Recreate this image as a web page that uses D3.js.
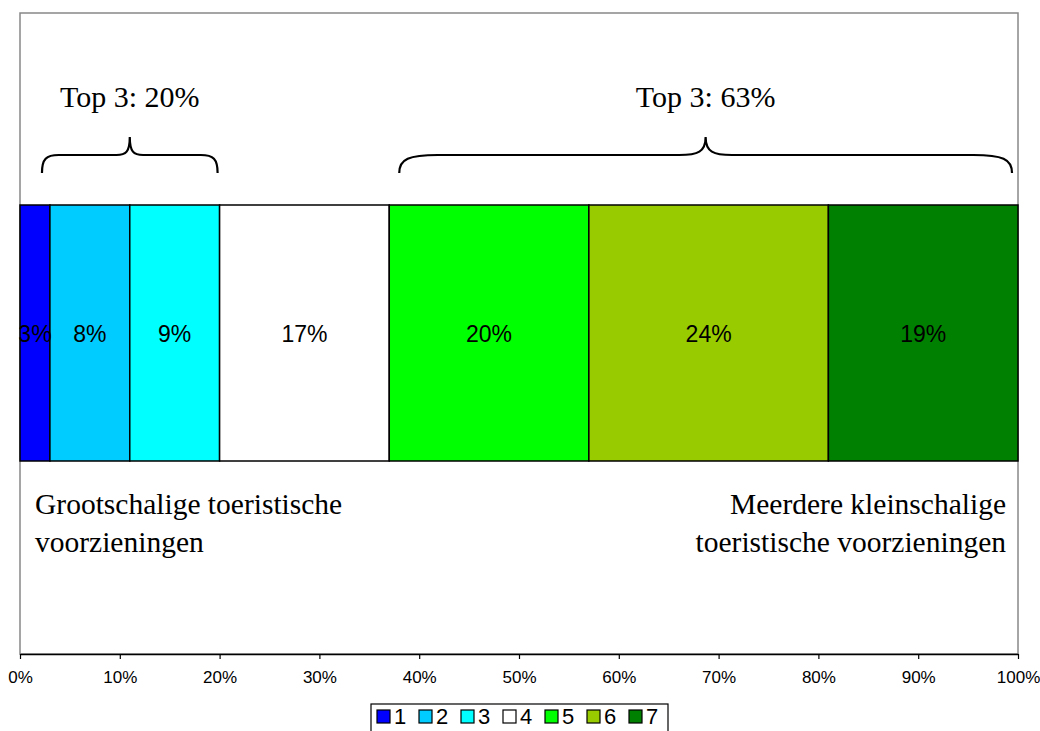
<!DOCTYPE html>
<html>
<head>
<meta charset="utf-8">
<script src="https://cdn.jsdelivr.net/npm/d3@7"></script>
<style>
  html, body { margin: 0; padding: 0; background: #fff; }
  svg { display: block; }
</style>
</head>
<body>
<svg id="chart" width="1040" height="731"></svg>
<script>
// ---- data ----
const categories = ["1", "2", "3", "4", "5", "6", "7"];
const values = [3, 8, 9, 17, 20, 24, 19];
const colors = ["#0000FF", "#00CCFF", "#00FFFF", "#FFFFFF", "#00FF00", "#99CC00", "#008000"];
const tickValues = [0, 10, 20, 30, 40, 50, 60, 70, 80, 90, 100];
const tickLabels = ["0%", "10%", "20%", "30%", "40%", "50%", "60%", "70%", "80%", "90%", "100%"];
const braceLabels = ["Top 3: 20%", "Top 3: 63%"];
const braceStart = [2.2, 38.0];
const braceEnd = [19.8, 99.4];
const groupLabelsLeft = ["Grootschalige toeristische", "voorzieningen"];
const groupLabelsRight = ["Meerdere kleinschalige", "toeristische voorzieningen"];

// ---- layout ----
const svg = d3.select("#chart");
const plot = { left: 20, right: 1018, top: 13, bottom: 654 };
const x = d3.scaleLinear().domain([0, 100]).range([plot.left, plot.right]);
const bar = { top: 205, bottom: 461 };
const sans = "'Liberation Sans', Arial, sans-serif";
const serif = "'Liberation Serif', 'Times New Roman', serif";

// plot area frame
svg.append("rect")
  .attr("x", plot.left).attr("y", plot.top)
  .attr("width", plot.right - plot.left).attr("height", plot.bottom - plot.top)
  .attr("fill", "none").attr("stroke", "#888").attr("stroke-width", 1.5);

// stacked segments
let cum = 0;
const segs = values.map((v, i) => { const s = { cat: categories[i], v, x0: cum, x1: cum + v, color: colors[i] }; cum += v; return s; });

const g = svg.append("g");
g.selectAll("rect.seg").data(segs).enter().append("rect")
  .attr("class", "seg")
  .attr("x", d => x(d.x0)).attr("y", bar.top)
  .attr("width", d => x(d.x1) - x(d.x0)).attr("height", bar.bottom - bar.top)
  .attr("fill", d => d.color).attr("stroke", "#000").attr("stroke-width", 1.5);

g.selectAll("text.lbl").data(segs).enter().append("text")
  .attr("class", "lbl")
  .attr("x", d => (x(d.x0) + x(d.x1)) / 2).attr("y", 342)
  .attr("text-anchor", "middle")
  .attr("font-family", sans).attr("font-size", 23)
  .attr("fill", "#000")
  .text(d => d.v + "%");

// axis
const axis = d3.axisBottom(x).tickValues(tickValues).tickSize(5).tickSizeOuter(0)
  .tickFormat((d, i) => tickLabels[i]);
const ag = svg.append("g").attr("transform", `translate(0,${plot.bottom})`).call(axis);
ag.select(".domain").attr("stroke", "#000").attr("stroke-width", 1.5);
ag.selectAll(".tick line").attr("stroke", "#000").attr("stroke-width", 1.2);
ag.selectAll(".tick text").attr("font-family", sans).attr("font-size", 17)
  .attr("fill", "#000").attr("dy", null).attr("y", 29);

// braces
const yTip = 137, yArm = 155, yEnd = 173;
function bracePath(x0, x1) {
  const w = x1 - x0, mid = (x0 + x1) / 2;
  const c = 8 + w * 0.05;       // end curl width
  const t = 8 + w * 0.03;       // tip curl width
  return `M${x0},${yEnd}` +
    `C${x0},${yArm + 4} ${x0 + c * 0.25},${yArm} ${x0 + c},${yArm}` +
    `L${mid - t},${yArm}` +
    `C${mid - t * 0.3},${yArm} ${mid},${yArm - 3} ${mid},${yTip}` +
    `C${mid},${yArm - 3} ${mid + t * 0.3},${yArm} ${mid + t},${yArm}` +
    `L${x1 - c},${yArm}` +
    `C${x1 - c * 0.25},${yArm} ${x1},${yArm + 4} ${x1},${yEnd}`;
}
braceLabels.forEach((lab, i) => {
  const a = x(braceStart[i]), b = x(braceEnd[i]);
  svg.append("path").attr("d", bracePath(a, b))
    .attr("fill", "none").attr("stroke", "#000").attr("stroke-width", 2.2);
  svg.append("text").attr("x", (a + b) / 2).attr("y", 107)
    .attr("text-anchor", "middle").attr("font-family", serif).attr("font-size", 30)
    .attr("fill", "#000").text(lab);
});

// group labels
groupLabelsLeft.forEach((t, i) => {
  svg.append("text").attr("x", 35).attr("y", 514 + i * 38)
    .attr("font-family", serif).attr("font-size", 29.5).attr("fill", "#000").text(t);
});
groupLabelsRight.forEach((t, i) => {
  svg.append("text").attr("x", 1006).attr("y", 514 + i * 38).attr("text-anchor", "end")
    .attr("font-family", serif).attr("font-size", 29.5).attr("fill", "#000").text(t);
});

// legend
const lg = svg.append("g");
lg.append("rect").attr("x", 371).attr("y", 704).attr("width", 297).attr("height", 34)
  .attr("fill", "#fff").attr("stroke", "#000").attr("stroke-width", 1.2);
const items = lg.selectAll("g.item").data(categories).enter().append("g")
  .attr("class", "item")
  .attr("transform", (d, i) => `translate(${377 + i * 42},710)`);
items.append("rect").attr("width", 13).attr("height", 13)
  .attr("fill", (d, i) => colors[i]).attr("stroke", "#000").attr("stroke-width", 1.2);
items.append("text").attr("x", 17).attr("y", 14)
  .attr("font-family", sans).attr("font-size", 22).attr("fill", "#000").text(d => d);
</script>
</body>
</html>
